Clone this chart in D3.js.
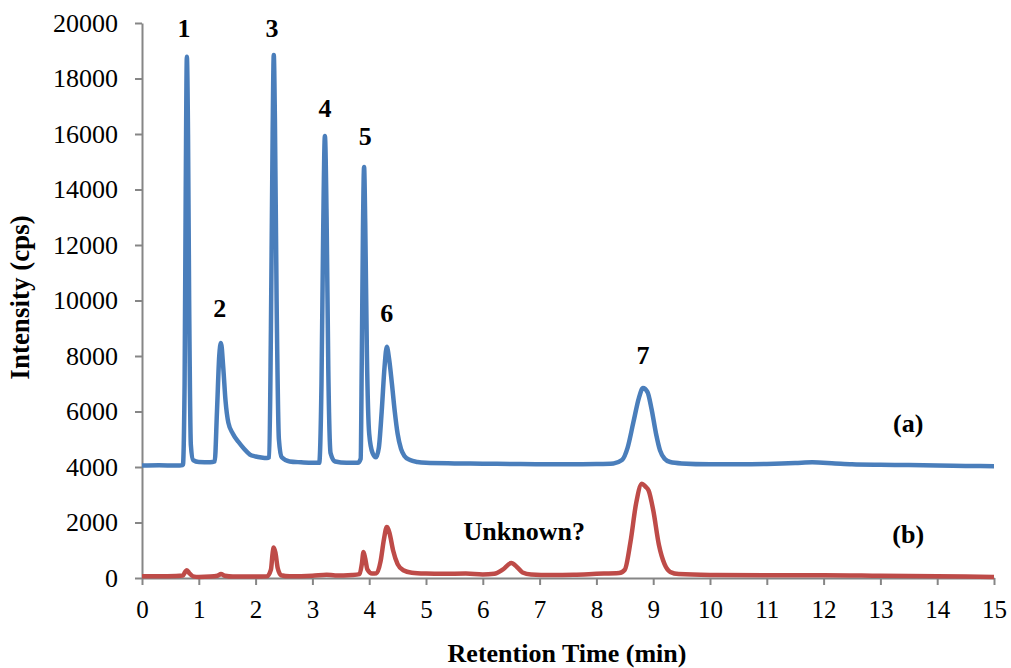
<!DOCTYPE html>
<html>
<head>
<meta charset="utf-8">
<script src="https://cdn.jsdelivr.net/npm/d3@7"></script>
<style>
    body { margin: 0; background: #fff; }
    svg { display: block; font-family: "Liberation Serif", "Times New Roman", serif; }
</style>
</head>
<body>
<script>
// trace (a) - blue
var timeA = [0, 0.3, 0.6, 0.72, 0.75, 0.77, 0.79, 0.81, 0.83, 0.86, 0.9, 1.0, 1.2, 1.28, 1.32, 1.36, 1.39, 1.43, 1.47, 1.52,
    1.6, 1.7, 1.8, 1.9, 2.0, 2.1, 2.2, 2.24, 2.27, 2.30, 2.32, 2.34, 2.37, 2.41, 2.46, 2.6, 2.8, 3.0, 3.12, 3.16,
    3.19, 3.22, 3.25, 3.28, 3.32, 3.4, 3.6, 3.8, 3.85, 3.87, 3.89, 3.91, 3.93, 3.96, 4.0, 4.06, 4.12, 4.17, 4.22, 4.27,
    4.31, 4.35, 4.40, 4.45, 4.5, 4.56, 4.62, 4.72, 4.85, 5.0, 5.5, 6.0, 6.5, 7.0, 7.5, 8.0, 8.3, 8.45, 8.55, 8.65,
    8.75, 8.82, 8.9, 8.97, 9.05, 9.12, 9.2, 9.3, 9.5, 10, 10.5, 11, 11.5, 11.8, 12.2, 12.5, 13, 13.5, 14, 14.5, 15];
var intensityA = [4050, 4060, 4050, 4070, 7000, 14000, 18780, 16000, 10000, 4800, 4250, 4180, 4170, 4200, 6000, 8000, 8470, 7600, 6400, 5600,
    5200, 4900, 4650, 4450, 4380, 4340, 4320, 4350, 9000, 16000, 18850, 16500, 10000, 5000, 4350, 4200, 4170, 4150, 4150, 7000,
    12500, 15930, 13000, 7500, 4500, 4200, 4150, 4150, 4300, 8000, 12500, 14810, 12800, 8000, 5200, 4500, 4350, 4700, 6000, 7600,
    8330, 7900, 7000, 6000, 5200, 4650, 4400, 4250, 4180, 4150, 4130, 4120, 4110, 4100, 4100, 4110, 4130, 4250, 4700, 5600,
    6500, 6850, 6700, 6100, 5200, 4600, 4300, 4180, 4130, 4100, 4100, 4110, 4140, 4170, 4130, 4100, 4080, 4070, 4050, 4040, 4030];

// trace (b) - red
var timeB = [0, 0.3, 0.6, 0.72, 0.76, 0.79, 0.83, 0.9, 1.0, 1.2, 1.33, 1.39, 1.46, 1.6, 2.0, 2.2, 2.27, 2.30, 2.32, 2.35,
    2.39, 2.45, 2.6, 3.0, 3.25, 3.4, 3.7, 3.83, 3.87, 3.90, 3.93, 3.97, 4.05, 4.13, 4.2, 4.26, 4.31, 4.36, 4.42, 4.5,
    4.6, 4.75, 5.0, 5.3, 5.7, 6.0, 6.2, 6.35, 6.5, 6.6, 6.7, 6.85, 7.2, 7.6, 8.0, 8.4, 8.5, 8.6, 8.7, 8.8,
    8.86, 8.92, 9.0, 9.1, 9.2, 9.3, 9.45, 10, 11, 12, 13, 14, 15];
var intensityB = [60, 60, 70, 90, 220, 280, 180, 60, 40, 50, 80, 140, 80, 50, 50, 60, 300, 900, 1100, 900,
    350, 100, 60, 80, 120, 90, 110, 140, 500, 940, 700, 300, 160, 170, 600, 1400, 1840, 1600, 1000, 500,
    280, 190, 160, 150, 160, 130, 150, 300, 540, 400, 200, 130, 110, 120, 150, 180, 300, 1300, 2700, 3400,
    3300, 3150, 2450, 1200, 500, 220, 140, 110, 100, 100, 80, 60, 40];

var xTicks = [0, 1, 2, 3, 4, 5, 6, 7, 8, 9, 10, 11, 12, 13, 14, 15];
var yTicks = [0, 2000, 4000, 6000, 8000, 10000, 12000, 14000, 16000, 18000, 20000];

// peak annotations, anchored in data units
var peakNames = ["1", "2", "3", "4", "5", "6", "7", "(a)", "(b)", "Unknown?"];
var peakTimes = [0.74, 1.37, 2.29, 3.22, 3.93, 4.31, 8.82, 13.49, 13.49, 6.73];
var peakLevels = [19500, 9410, 19500, 16610, 15600, 9230, 7700, 5260, 1260, 1370];

var width = 1011, height = 668;
var plotLeft = 142, plotRight = 994, plotTop = 23, plotBottom = 578;
var axisColor = "#868686";

var svg = d3.select("body").append("svg")
    .attr("width", width)
    .attr("height", height);

var xscale = d3.scaleLinear().domain([0, 15]).range([plotLeft, plotRight]);
var yscale = d3.scaleLinear().domain([0, 20000]).range([plotBottom, plotTop]);

var x_axis = d3.axisBottom(xscale).tickValues(xTicks).tickFormat(d3.format("d"))
    .tickSizeInner(7).tickSizeOuter(0).tickPadding(15);
var y_axis = d3.axisLeft(yscale).tickValues(yTicks).tickFormat(d3.format("d"))
    .tickSizeInner(7).tickSizeOuter(0).tickPadding(17);

var gx = svg.append("g").attr("transform", "translate(0," + plotBottom + ")").call(x_axis);
var gy = svg.append("g").attr("transform", "translate(" + plotLeft + ",0)").call(y_axis);

[gx, gy].forEach(function (g) {
    g.selectAll("path, line").attr("stroke", axisColor).attr("stroke-width", 2);
    g.selectAll("text").attr("fill", "#000").style("font-size", "25px")
        .style("font-family", '"Liberation Serif", "Times New Roman", serif');
});
gy.selectAll("text").style("font-size", "26px");

var line = d3.line()
    .x(function (d) { return xscale(d[0]); })
    .y(function (d) { return yscale(d[1]); })
    .curve(d3.curveMonotoneX);

var dataA = timeA.map(function (t, i) { return [t, intensityA[i]]; });
var dataB = timeB.map(function (t, i) { return [t, intensityB[i]]; });

svg.append("path").datum(dataB)
    .attr("d", line)
    .attr("fill", "none")
    .attr("stroke", "#be4b48")
    .attr("stroke-width", 4.5)
    .attr("stroke-linejoin", "round");

svg.append("path").datum(dataA)
    .attr("d", line)
    .attr("fill", "none")
    .attr("stroke", "#4a7ebb")
    .attr("stroke-width", 4.5)
    .attr("stroke-linejoin", "round");

// labels
svg.append("g").selectAll("text").data(peakNames).enter().append("text")
    .attr("x", function (d, i) { return xscale(peakTimes[i]); })
    .attr("y", function (d, i) { return yscale(peakLevels[i]); })
    .attr("text-anchor", "middle")
    .style("font-size", "26px")
    .style("font-weight", "bold")
    .text(function (d) { return d; });

// axis titles
svg.append("text")
    .attr("x", (plotLeft + plotRight) / 2 - 1)
    .attr("y", 662)
    .attr("text-anchor", "middle")
    .style("font-size", "26px")
    .style("font-weight", "bold")
    .text("Retention Time (min)");

svg.append("text")
    .attr("transform", "translate(29," + ((plotTop + plotBottom) / 2 - 3) + ") rotate(-90)")
    .attr("text-anchor", "middle")
    .style("font-size", "27px")
    .style("font-weight", "bold")
    .text("Intensity (cps)");
</script>
</body>
</html>
